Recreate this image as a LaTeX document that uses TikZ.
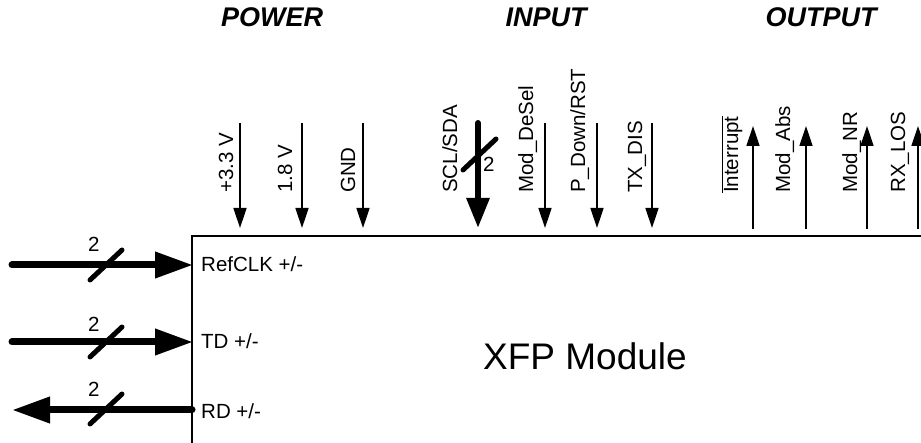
\documentclass[tikz,border=0pt]{standalone}
\usepackage{fontspec}
\setmainfont{Liberation Sans}
\usetikzlibrary{arrows.meta}

\tikzset{
  grouptitle/.style={anchor=base,inner sep=0pt,font=\fontsize{27}{31}\selectfont\bfseries\itshape},
  sigtext/.style={rotate=90,anchor=base west,inner sep=0pt},
  porttext/.style={anchor=base west,inner sep=0pt},
  buscount/.style={anchor=base west,inner sep=0pt},
  sigline/.style={line width=1.5pt,-{Triangle[length=20pt,width=13pt]}},
  busline/.style={line width=7pt,line cap=round,-{Triangle[length=38pt,width=25pt]}},
  i2cline/.style={line width=6pt,line cap=round,-{Triangle[length=30pt,width=22pt]}},
  busslash/.style={line width=5pt,line cap=round},
  boxline/.style={line width=1.5pt}
}

\begin{document}
\begin{tikzpicture}[x=1pt,y=-1pt,font=\fontsize{20.5}{24}\selectfont]
\useasboundingbox (0,0) rectangle (921,443);

% group headings
\node[grouptitle] (power) at (272,27) {POWER};
\node[grouptitle] (input) at (546,27) {INPUT};
\node[grouptitle] (output) at (821,27) {OUTPUT};

% module outline
\coordinate (boxcorner) at (192,236);
\coordinate (boxright) at (921,236);
\coordinate (boxbottom) at (192,443);
\draw[boxline] (boxright) -- (boxcorner) -- (boxbottom);
\node[porttext] (module) at (483,370) {\fontsize{37}{44}\selectfont XFP Module};

% power pins
\node[sigtext] (v33) at (233,193) {+3.3 V};
\coordinate (v33a) at (240,123); \coordinate (v33b) at (240,228);
\draw[sigline] (v33a) -- (v33b);
\node[sigtext] (v18) at (292,193) {1.8 V};
\coordinate (v18a) at (302,123); \coordinate (v18b) at (302,228);
\draw[sigline] (v18a) -- (v18b);
\node[sigtext] (gnd) at (355,193) {GND};
\coordinate (gnda) at (363,123); \coordinate (gndb) at (363,228);
\draw[sigline] (gnda) -- (gndb);

% input pins
\node[sigtext] (scl) at (457,193) {SCL/SDA};
\coordinate (scla) at (478,123); \coordinate (sclb) at (478,228);
\draw[i2cline] (scla) -- (sclb);
\coordinate (scls) at (463,170); \coordinate (sclt) at (496,139);
\draw[busslash] (scls) -- (sclt);
\node[buscount] (sclcount) at (483,172) {2};
\node[sigtext] (desel) at (533,193) {Mod\_DeSel};
\coordinate (desela) at (545,123); \coordinate (deselb) at (545,228);
\draw[sigline] (desela) -- (deselb);
\node[sigtext] (pdown) at (585,193) {P\_Down/RST};
\coordinate (pdowna) at (597,123); \coordinate (pdownb) at (597,228);
\draw[sigline] (pdowna) -- (pdownb);
\node[sigtext] (txdis) at (642,193) {TX\_DIS};
\coordinate (txdisa) at (652,123); \coordinate (txdisb) at (652,228);
\draw[sigline] (txdisa) -- (txdisb);

% output pins
\node[sigtext] (intr) at (738,193) {$\overline{\mbox{Interrupt}}$};
\coordinate (intra) at (753,229); \coordinate (intrb) at (753,126);
\draw[sigline] (intra) -- (intrb);
\node[sigtext] (modabs) at (790,193) {Mod\_Abs};
\coordinate (modabsa) at (806,229); \coordinate (modabsb) at (806,126);
\draw[sigline] (modabsa) -- (modabsb);
\node[sigtext] (modnr) at (857,193) {Mod\_NR};
\coordinate (modnra) at (867,229); \coordinate (modnrb) at (867,126);
\draw[sigline] (modnra) -- (modnrb);
\node[sigtext] (rxlos) at (905,193) {RX\_LOS};
\coordinate (rxlosa) at (918,229); \coordinate (rxlosb) at (918,126);
\draw[sigline] (rxlosa) -- (rxlosb);

% high speed ports
\node[porttext] (refclk) at (201,272) {RefCLK +/-};
\coordinate (refclka) at (12,265); \coordinate (refclkb) at (193,265);
\draw[busline] (refclka) -- (refclkb);
\coordinate (refclks) at (90,280); \coordinate (refclkt) at (122,250);
\draw[busslash] (refclks) -- (refclkt);
\node[buscount] (refclkcount) at (88,252) {2};

\node[porttext] (td) at (201,349) {TD +/-};
\coordinate (tda) at (12,342); \coordinate (tdb) at (193,342);
\draw[busline] (tda) -- (tdb);
\coordinate (tds) at (90,357); \coordinate (tdt) at (122,327);
\draw[busslash] (tds) -- (tdt);
\node[buscount] (tdcount) at (88,332) {2};

\node[porttext] (rd) at (201,418) {RD +/-};
\coordinate (rda) at (192,410); \coordinate (rdb) at (12,410);
\draw[busline] (rda) -- (rdb);
\coordinate (rds) at (90,424); \coordinate (rdt) at (122,394);
\draw[busslash] (rds) -- (rdt);
\node[buscount] (rdcount) at (88,397) {2};
\end{tikzpicture}
\end{document}
